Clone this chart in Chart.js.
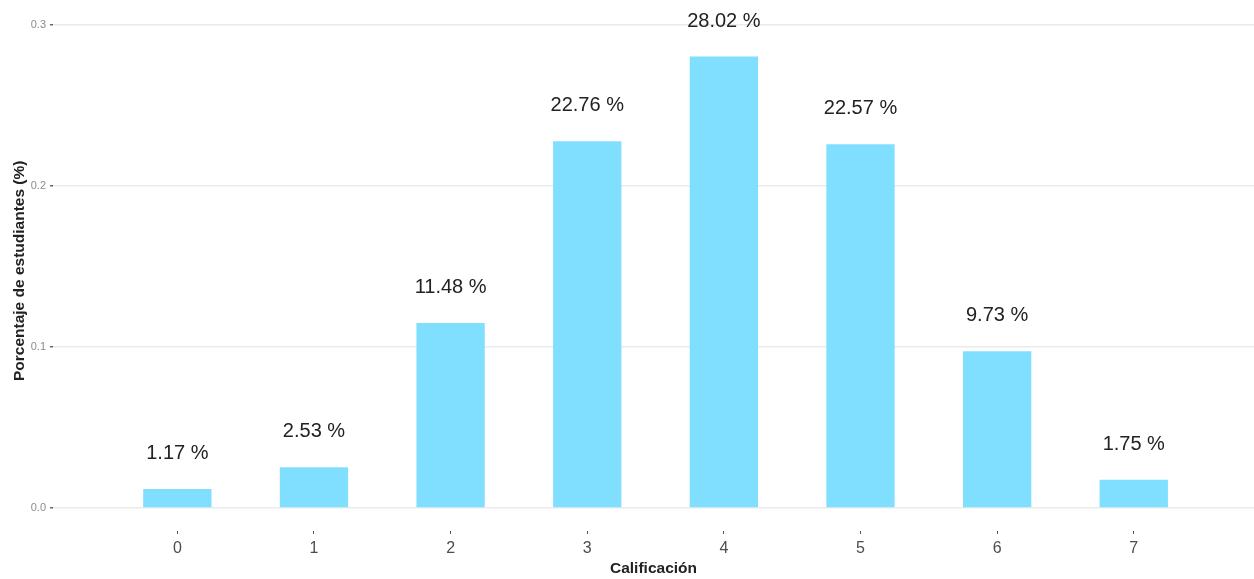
<!DOCTYPE html>
<html>
<head>
<meta charset="utf-8">
<script src="https://cdn.jsdelivr.net/npm/chart.js@4/dist/chart.umd.min.js"></script>
<style>
  html, body { margin: 0; padding: 0; background: #fff; }
  #wrap { width: 1254px; height: 579px; position: relative; }
</style>
</head>
<body>
<div id="wrap"><canvas id="chart"></canvas></div>
<script>
// grades and share of students
const grades = [0, 1, 2, 3, 4, 5, 6, 7];
const shares = [0.0117, 0.0253, 0.1148, 0.2276, 0.2802, 0.2257, 0.0973, 0.0175];
const yTicks = [0, 0.1, 0.2, 0.3];

// text above each bar, e.g. "22.76 %"
const barLabels = {
    id: 'barLabels',
    afterDatasetsDraw(chart) {
        const ctx = chart.ctx;
        const x = chart.scales.x;
        const y = chart.scales.y;
        ctx.save();
        ctx.font = '20px "Liberation Sans", Arial, sans-serif';
        ctx.fillStyle = '#222222';
        ctx.textAlign = 'center';
        ctx.textBaseline = 'middle';
        grades.forEach((g, i) => {
            const txt = (shares[i] * 100).toFixed(2) + ' %';
            ctx.fillText(txt, x.getPixelForValue(g), y.getPixelForValue(shares[i] + 0.022));
        });
        ctx.restore();
    }
};

const ctx = document.getElementById('chart').getContext('2d');
new Chart(ctx, {
    type: 'bar',
    data: {
        datasets: [{
            data: grades.map((g, i) => ({ x: g, y: shares[i] })),
            backgroundColor: '#80dfff',
            borderWidth: 0,
            barPercentage: 0.5,
            categoryPercentage: 1.0
        }]
    },
    options: {
        responsive: true,
        maintainAspectRatio: false,
        animation: false,
        layout: { padding: 0 },
        plugins: {
            legend: { display: false },
            tooltip: { enabled: false }
        },
        scales: {
            x: {
                type: 'linear',
                offset: false,
                min: -0.91,
                max: 7.88,
                afterBuildTicks: axis => { axis.ticks = grades.map(v => ({ value: v })); },
                afterFit: axis => { axis.height = 48; },
                grid: {
                    offset: false,
                    drawOnChartArea: false,
                    drawTicks: true,
                    tickLength: 3,
                    tickColor: '#555555'
                },
                border: { display: false },
                ticks: {
                    padding: 5,
                    color: '#4d4d4d',
                    font: { size: 16, family: '"Liberation Sans", Arial, sans-serif' },
                    callback: v => String(v)
                },
                title: {
                    display: true,
                    text: 'Calificación',
                    color: '#222222',
                    font: { size: 15.5, weight: 'bold', family: '"Liberation Sans", Arial, sans-serif' },
                    padding: { top: 0, bottom: 1 }
                }
            },
            y: {
                min: -0.0143,
                max: 0.3087,
                afterBuildTicks: axis => { axis.ticks = yTicks.map(v => ({ value: v })); },
                afterFit: axis => { axis.width = 53; },
                grid: {
                    color: '#ebebeb',
                    lineWidth: 1.5,
                    drawTicks: true,
                    tickLength: 3,
                    tickColor: '#666666'
                },
                border: { display: false },
                ticks: {
                    padding: 4,
                    color: '#8c8c8c',
                    font: { size: 11, family: '"Liberation Sans", Arial, sans-serif' },
                    callback: v => v.toFixed(1)
                },
                title: {
                    display: true,
                    text: 'Porcentaje de estudiantes (%)',
                    color: '#222222',
                    font: { size: 15.5, weight: 'bold', family: '"Liberation Sans", Arial, sans-serif' },
                    padding: { top: 10, bottom: 0 }
                }
            }
        }
    },
    plugins: [barLabels]
});
</script>
</body>
</html>
